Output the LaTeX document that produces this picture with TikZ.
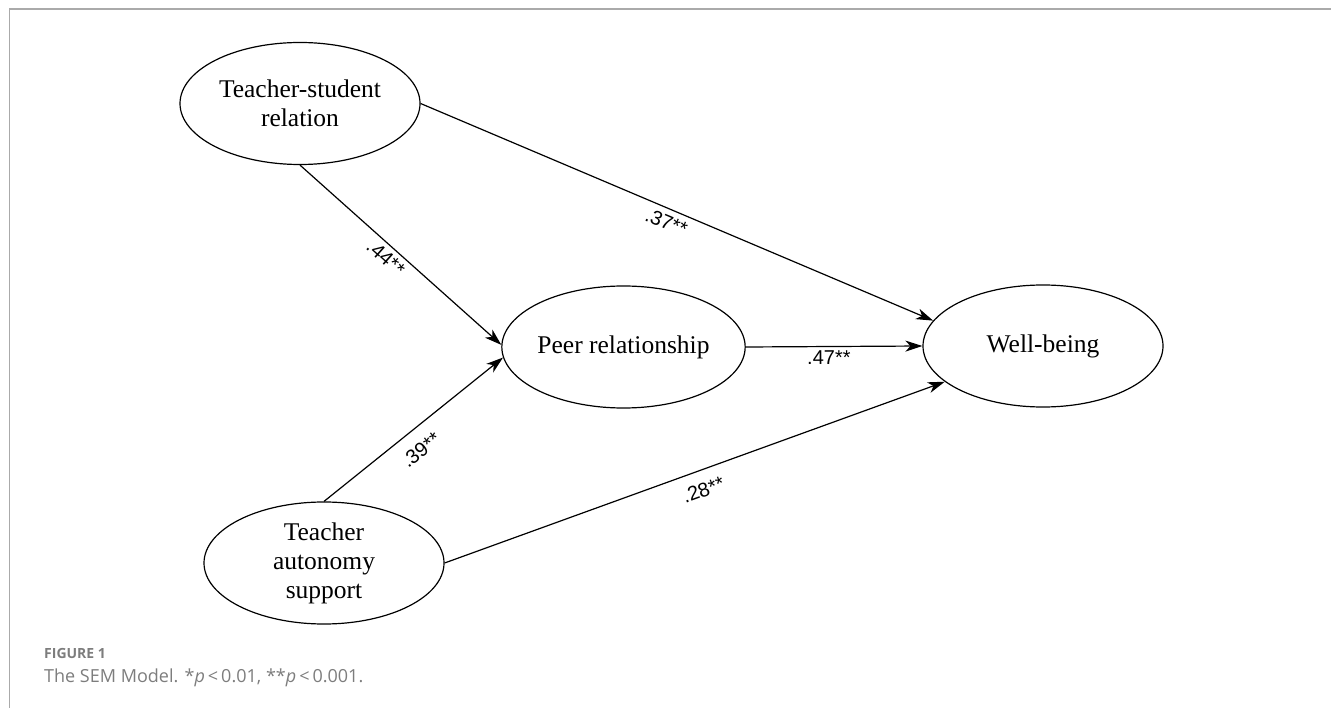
\documentclass[tikz,border=0pt]{standalone}
\usepackage{fontspec}
\setmainfont{Liberation Serif}
\newfontfamily\labfont{Liberation Sans}
\newfontfamily\capfont{Open Sans}
\usetikzlibrary{shapes.geometric,arrows.meta}
\definecolor{framegray}{RGB}{170,170,170}
\definecolor{capgray}{RGB}{125,125,125}
\begin{document}
\begin{tikzpicture}[x=1pt,y=-1pt,
  latent/.style={ellipse,draw,line width=1.2pt,minimum width=240pt,minimum height=122pt,inner sep=0pt,align=center,font=\fontsize{25.5}{29}\selectfont},
  path/.style={line width=1.2pt,-{Stealth[length=17pt,width=11pt,inset=5pt]}},
  coef/.style={sloped,font=\labfont\fontsize{20}{24}\selectfont,inner sep=3.3pt},
  captxt/.style={anchor=base west,inner sep=0pt,text=capgray}]
\useasboundingbox (0,0) rectangle (1331,708);
\draw[framegray,line width=1.6pt] (9.5,708) -- (9.5,9) -- (1331,9);
\node[latent] (ts) at (300,103.5) {Teacher-student\\relation};
\node[latent] (peer) at (623.5,347) {Peer relationship};
\node[latent] (wb) at (1043,346) {Well-being};
\node[latent] (tas) at (324,563) {Teacher\\autonomy\\support};
\draw[path] (ts.south) -- node[coef,pos=0.466,below=1pt] {.44**} (peer.179);
\draw[path] (ts.east) -- node[coef,pos=0.49,below=2.4pt] {.37**} (wb.167);
\draw[path] (peer.east) -- node[coef,pos=0.47,below=0pt] {.47**} (wb.west);
\draw[path] (tas.north) -- node[coef,pos=0.47,below=9.5pt] {.39**} (peer.185);
\draw[path] (tas.east) -- node[coef,pos=0.504,below=8.5pt] {.28**} (wb.200.7);
\node[captxt,font=\capfont\bfseries\fontsize{14}{16}\selectfont] (fig) at (44,658) {FIGURE 1};
\node[captxt,font=\capfont\fontsize{18}{20}\selectfont] (cap) at (44,682) {The SEM Model. *\textit{p}\,<\,0.01, **\textit{p}\,<\,0.001.};
\end{tikzpicture}
\end{document}
